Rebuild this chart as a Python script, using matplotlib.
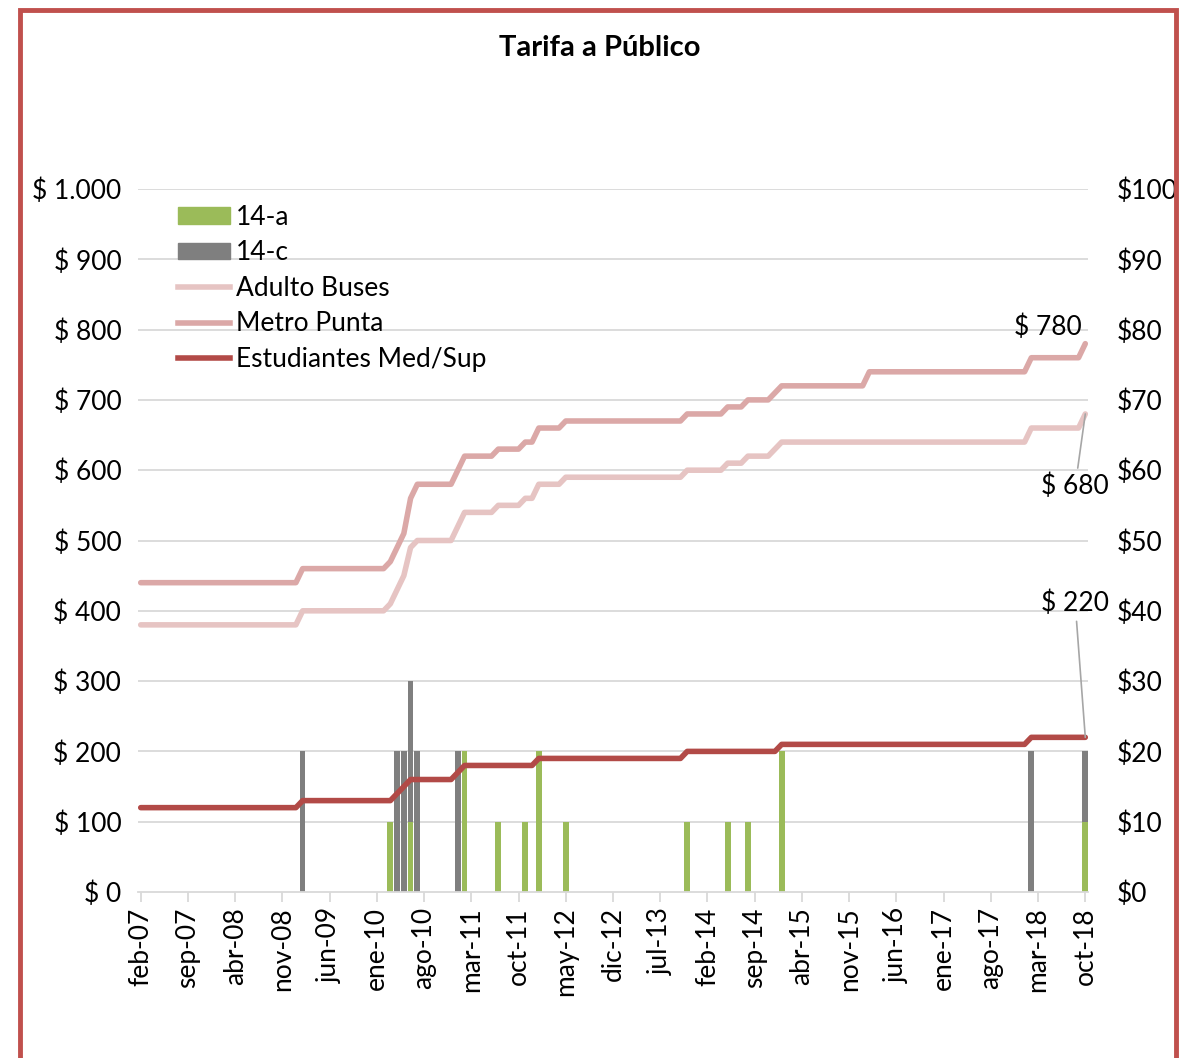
import matplotlib
matplotlib.use('Agg')
import matplotlib.pyplot as plt
from matplotlib.patches import Rectangle, Patch
from matplotlib.lines import Line2D
import numpy as np

plt.rcParams['font.family'] = ['Lato', 'DejaVu Sans']

mes = ['ene', 'feb', 'mar', 'abr', 'may', 'jun', 'jul', 'ago', 'sep', 'oct', 'nov', 'dic']
# monthly axis feb-07 .. oct-18
months = []
for y in range(2007, 2019):
    for k in range(12):
        lab = '%s-%02d' % (mes[k], y % 100)
        if (y == 2007 and k < 1) or (y == 2018 and k > 9):
            continue
        months.append(lab)

# monthly fares ($) (run lengths)
adulto = ([380] * 24 + [400] * 12 + [400, 410, 430, 450, 490] + [500] * 6 + [520]
          + [540] * 5 + [550] * 4 + [560] * 2 + [580] * 4 + [590] * 18 + [600] * 6
          + [610] * 3 + [620] * 4 + [630] + [640] * 37 + [660] * 8 + [680])
metro = ([440] * 24 + [460] * 12 + [460, 470, 490, 510, 560] + [580] * 6 + [600]
         + [620] * 5 + [630] * 4 + [640] * 2 + [660] * 4 + [670] * 18 + [680] * 6
         + [690] * 3 + [700] * 4 + [710] + [720] * 13 + [740] * 24 + [760] * 8 + [780])
estudiantes = ([120] * 24 + [130] * 14 + [140, 150] + [160] * 7 + [170]
               + [180] * 11 + [190] * 22 + [200] * 14 + [210] * 37 + [220] * 9)

# bars (right axis)
a_months = ['mar-10', 'jun-10', 'feb-11', 'jul-11', 'nov-11', 'ene-12', 'may-12',
            'nov-13', 'may-14', 'ago-14', 'ene-15', 'oct-18']
a_vals = [10, 10, 20, 10, 10, 20, 10, 10, 10, 10, 20, 10]
c_months = ['feb-09', 'abr-10', 'may-10', 'jun-10', 'jul-10', 'ene-11', 'feb-18', 'oct-18']
c_vals = [20, 20, 20, 20, 20, 20, 20, 10]

n = len(months)
x = np.arange(n)
a = np.zeros(n)
c = np.zeros(n)
for mth, v in zip(a_months, a_vals):
    a[months.index(mth)] = v
for mth, v in zip(c_months, c_vals):
    c[months.index(mth)] = v

fs = 19

fig = plt.figure(figsize=(11.79, 10.58), dpi=100)
fig.patch.set_facecolor('white')
fig.patches.append(Rectangle((20 / 1179, -0.05), 1156 / 1179, 1.05 - 10 / 1058,
                             transform=fig.transFigure,
                             fill=False, edgecolor='#C0504D', linewidth=3.5))

ax = fig.add_axes([138 / 1179, 1 - 892 / 1058, 950 / 1179, 703 / 1058])
ax2 = ax.twinx()
ax.set_zorder(ax2.get_zorder() + 1)
ax.patch.set_visible(False)

ax2.bar(x, a, width=0.85, color='#9BBB59', zorder=2)
ax2.bar(x, c, width=0.85, bottom=a, color='#7F7F7F', zorder=2)
ax2.set_ylim(0, 100)
ax2.set_yticks(np.arange(0, 101, 10))
ax2.set_yticklabels(['$%d' % v for v in range(0, 101, 10)])

lw = 4.0
ax.plot(x, adulto, color='#E6C4C3', lw=lw, solid_capstyle='round', solid_joinstyle='round')
ax.plot(x, metro, color='#DBA8A7', lw=lw, solid_capstyle='round', solid_joinstyle='round')
ax.plot(x, estudiantes, color='#B24A47', lw=lw, solid_capstyle='round', solid_joinstyle='round')

ax.set_ylim(0, 1000)
ax.set_xlim(-0.4, n - 0.6)
yt = np.arange(0, 1001, 100)
ax.set_yticks(yt)
ax.set_yticklabels(['$ ' + ('{:,}'.format(v)).replace(',', '.') for v in yt])
ax2.set_xlim(ax.get_xlim())
ax2.grid(False)
for v in yt[1:]:
    ax2.axhline(v / 10, color='#D9D9D9', lw=1.3, zorder=0)

ticks = list(range(0, n, 7))
ax.set_xticks(ticks)
ax.set_xticklabels([months[i] for i in ticks], rotation=90)

for axis in (ax, ax2):
    for s in axis.spines.values():
        s.set_visible(False)
    axis.tick_params(axis='y', length=0, labelsize=fs)
ax.spines['bottom'].set_visible(True)
ax.spines['bottom'].set_color('#D9D9D9')
ax.spines['bottom'].set_linewidth(1.3)
ax.tick_params(axis='x', length=7, color='#D9D9D9', width=1.3, labelsize=fs, pad=4)
ax.tick_params(axis='y', pad=12)
ax2.tick_params(axis='y', pad=21)
ax2.tick_params(axis='x', length=0)

ax.text(134.5, 804, '$ 780', fontsize=fs, ha='center', va='center')
ax.annotate('$ 680', xy=(n - 1, 680), xytext=(138.5, 577), fontsize=fs, ha='center', va='center',
            arrowprops=dict(arrowstyle='-', color='#A6A6A6', lw=1.2, shrinkA=2, shrinkB=0))
ax.annotate('$ 220', xy=(n - 1, 220), xytext=(138.5, 411), fontsize=fs, ha='center', va='center',
            arrowprops=dict(arrowstyle='-', color='#A6A6A6', lw=1.2, shrinkA=2, shrinkB=0))

handles = [Patch(color='#9BBB59'), Patch(color='#7F7F7F'),
           Line2D([], [], color='#E6C4C3', lw=lw), Line2D([], [], color='#DBA8A7', lw=lw),
           Line2D([], [], color='#B24A47', lw=lw)]
labels = ['14-a', '14-c', 'Adulto Buses', 'Metro Punta', 'Estudiantes Med/Sup']
ax.legend(handles, labels, loc='upper left', bbox_to_anchor=(0.025, 1.0), frameon=False,
          fontsize=fs, handlelength=2.0, handleheight=0.6, handletextpad=0.2,
          labelspacing=0.4, borderaxespad=0.2)

fig.text(0.509, 1 - 48 / 1058, 'Tarifa a Público', fontsize=21, fontweight='bold',
         ha='center', va='center')

fig.savefig('out.png', dpi=100, facecolor='white')
